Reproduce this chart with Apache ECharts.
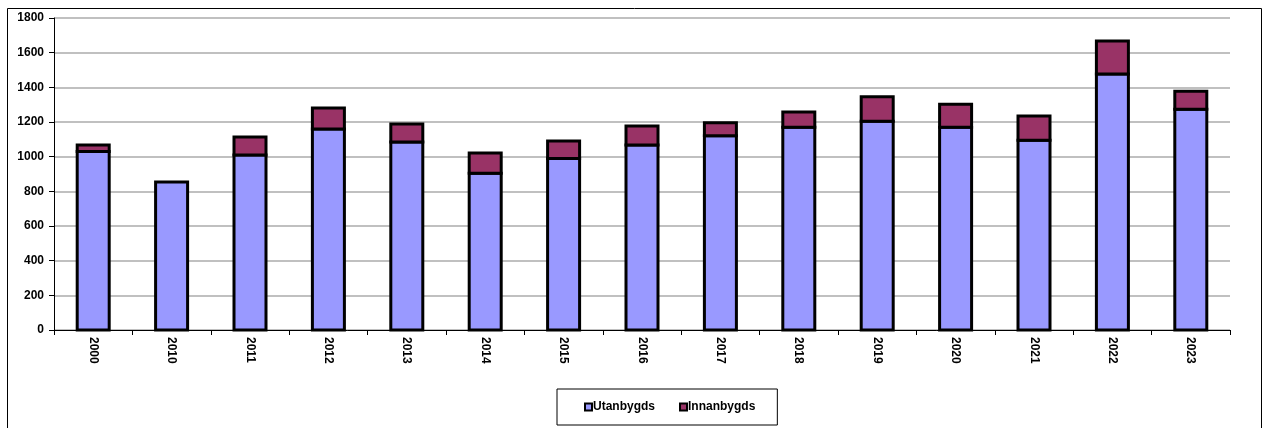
<!DOCTYPE html>
<html>
<head>
<meta charset="utf-8">
<script src="https://cdn.jsdelivr.net/npm/echarts@6/dist/echarts.min.js"></script>
<style>
html,body{margin:0;padding:0;background:#fff;}
#c{width:1264px;height:428px;}
</style>
</head>
<body>
<div id="c"></div>
<script>
const categories = ['2000','2010','2011','2012','2013','2014','2015','2016','2017','2018','2019','2020','2021','2022','2023'];
const utanbygds = [1030, 854, 1010, 1160, 1085, 905, 990, 1067, 1120, 1170, 1205, 1170, 1095, 1477, 1273];
const innanbygds = [38, 0, 103, 121, 103, 116, 100, 110, 75, 88, 140, 132, 140, 190, 105];
const yTicks = [0, 200, 400, 600, 800, 1000, 1200, 1400, 1600, 1800];

// stacked segments: [categoryIndex, start, end]
const utanData = categories.map((c, i) => [i, 0, utanbygds[i]]);
const innanData = categories.map((c, i) => [i, utanbygds[i], utanbygds[i] + innanbygds[i]]).filter((d, i) => innanbygds[i] > 0);

const BAR_W = 32;
function makeRender(fill) {
  return function (params, api) {
    const x = api.value(0);
    const p0 = api.coord([x, api.value(1)]);
    const p1 = api.coord([x, api.value(2)]);
    return {
      type: 'rect',
      shape: {x: p0[0] - BAR_W / 2, y: p1[1], width: BAR_W, height: p0[1] - p1[1]},
      style: {fill: fill, stroke: '#000', lineWidth: 3, lineJoin: 'miter'}
    };
  };
}

const chart = echarts.init(document.getElementById('c'), null, {renderer: 'canvas'});
const font = {fontFamily: 'Liberation Sans, Arial, sans-serif', fontWeight: 'bold', fontSize: 12, color: '#000'};
chart.setOption({
  animation: false,
  backgroundColor: '#fff',
  graphic: [{
    type: 'rect', z: -1, silent: true,
    shape: {x: 7.5, y: 8.5, width: 1254, height: 430},
    style: {fill: 'none', stroke: '#000', lineWidth: 1}
  }],
  grid: {left: 54, right: 34, top: 18, bottom: 98, containLabel: false},
  legend: {
    data: ['Utanbygds', 'Innanbygds'],
    left: 557, top: 389,
    padding: [12, 22, 12, 27],
    orient: 'horizontal',
    borderColor: '#000', borderWidth: 1,
    itemWidth: 7, itemHeight: 7, itemGap: 24,
    icon: 'rect',
    textStyle: Object.assign({}, font, {padding: [0, 0, 0, -4]}),
  },
  xAxis: {
    type: 'category',
    data: categories,
    axisLine: {lineStyle: {color: '#000', width: 1}},
    axisTick: {show: true, length: 5, lineStyle: {color: '#000'}, alignWithLabel: false},
    axisLabel: Object.assign({}, font, {rotate: -90, margin: 7}),
  },
  yAxis: {
    type: 'value',
    min: 0, max: 1800, interval: 200,
    axisLine: {show: true, lineStyle: {color: '#000', width: 1}},
    axisTick: {show: true, length: 5, lineStyle: {color: '#000'}},
    axisLabel: Object.assign({}, font, {margin: 10, formatter: v => yTicks.includes(v) ? String(v) : ''}),
    splitLine: {show: true, lineStyle: {color: '#c0c0c0', width: 2}},
  },
  series: [
    {
      name: 'Utanbygds', type: 'custom', data: utanData,
      encode: {x: 0, y: [1, 2]},
      renderItem: makeRender('#9999FF'),
      itemStyle: {color: '#9999FF', borderColor: '#000', borderWidth: 1.5},
      z: 2
    },
    {
      name: 'Innanbygds', type: 'custom', data: innanData,
      encode: {x: 0, y: [1, 2]},
      renderItem: makeRender('#993366'),
      itemStyle: {color: '#993366', borderColor: '#000', borderWidth: 1.5},
      z: 3
    }
  ]
});
</script>
</body>
</html>
